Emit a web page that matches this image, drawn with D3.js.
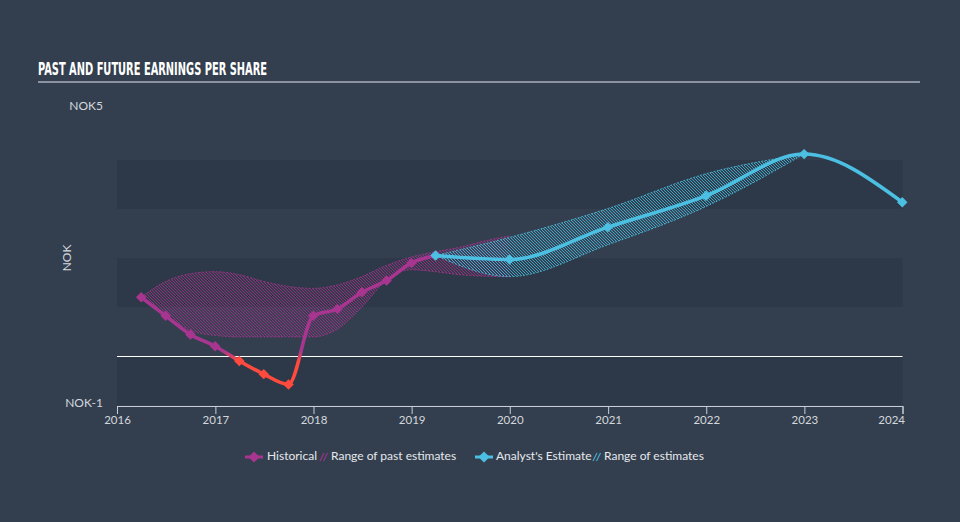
<!DOCTYPE html>
<html><head><meta charset="utf-8">
<script src="https://cdn.jsdelivr.net/npm/d3@7"></script>
<style>
html,body{margin:0;padding:0;background:#333f4f;}
svg{display:block;}
</style></head>
<body>
<svg id="chart" width="960" height="522"></svg>
<script>
// ---- data ----
const histDates = ["2016-03-31","2016-06-30","2016-09-30","2016-12-31","2017-03-31","2017-06-30","2017-09-30","2017-12-31","2018-03-31","2018-06-30","2018-09-30","2018-12-31","2019-03-31"];
const histValues = [1.20,0.82,0.44,0.20,-0.10,-0.37,-0.58,0.82,0.96,1.30,1.54,1.90,2.05];

const pastRangeDates = ["2016-03-31","2016-06-30","2016-09-30","2016-12-31","2017-03-31","2017-06-30","2017-09-30","2017-12-31","2018-03-31","2018-06-30","2018-09-30","2018-12-31","2019-03-31","2019-06-30","2019-09-30","2019-12-31"];
const pastLow  = [1.20,0.85,0.52,0.42,0.39,0.39,0.39,0.39,0.55,1.00,1.55,1.76,1.72,1.66,1.63,1.62];
const pastHigh = [1.20,1.52,1.68,1.72,1.66,1.52,1.42,1.38,1.45,1.62,1.85,2.02,2.13,2.22,2.35,2.45];

const estDates = ["2019-03-31","2019-12-31","2020-12-31","2021-12-31","2022-12-31","2023-12-31"];
const estValues = [2.05,1.97,2.63,3.27,4.12,3.14];

const estRangeDates = ["2019-03-31","2019-12-31","2020-12-31","2021-12-31","2022-12-31"];
const estLow  = [2.05,1.62,2.27,3.05,4.12];
const estHigh = [2.05,2.42,3.01,3.72,4.12];

const yTickLabels = ["NOK-1","NOK5"];
const yTickValues = [-1,5];
const xTickYears = [2016,2017,2018,2019,2020,2021,2022,2023,2024];

// ---- setup ----
const parse = d3.timeParse("%Y-%m-%d");
const svg = d3.select("#chart");
const W = 960, H = 522;
const pLeft = 117, pRight = 902.5, pTop = 111, pBottom = 405;

const x = d3.scaleTime().domain([new Date(2016,0,1), new Date(2024,0,1)]).range([pLeft, pRight]);
const y = d3.scaleLinear().domain([-1,5]).range([pBottom, pTop]);

const PURPLE = "#a8358f", RED = "#ff4a3d", BLUE = "#4cc0e3";
const TEXT = "#d4d8dd";

const defs = svg.append("defs");
function hatch(id, color){
  const p = defs.append("pattern").attr("id", id).attr("patternUnits","userSpaceOnUse")
    .attr("width",3).attr("height",3);
  p.append("path").attr("d","M-1,-1 L4,4 M-1,2 L1,4 M2,-1 L4,1")
    .attr("stroke", color).attr("stroke-width",0.9).attr("opacity",0.85);
}
hatch("hatchP", PURPLE);
hatch("hatchB", BLUE);

const grad = defs.append("linearGradient").attr("id","histGrad")
  .attr("gradientUnits","userSpaceOnUse").attr("x1",0).attr("x2",0)
  .attr("y1", y(0)-5).attr("y2", y(0)+5);
grad.append("stop").attr("offset","0%").attr("stop-color",PURPLE);
grad.append("stop").attr("offset","100%").attr("stop-color",RED);

// background
svg.append("rect").attr("width",W).attr("height",H).attr("fill","#333f4f");

// bands
const bandStarts = [-1,1,3];
svg.append("g").selectAll("rect").data(bandStarts).join("rect")
  .attr("x", pLeft).attr("width", pRight-pLeft)
  .attr("y", d => y(d+1)).attr("height", d => y(d)-y(d+1))
  .attr("fill","#2d3948");

// title
svg.append("text").attr("x",38).attr("y",75)
  .attr("font-family","'Liberation Sans Narrow','DejaVu Sans Condensed',sans-serif")
  .attr("font-weight","bold").attr("font-size",17.5).attr("fill","#ffffff")
  .attr("textLength",229).attr("lengthAdjust","spacingAndGlyphs")
  .text("PAST AND FUTURE EARNINGS PER SHARE");
svg.append("line").attr("x1",38).attr("x2",920).attr("y1",82).attr("y2",82)
  .attr("stroke","#a9b1ba").attr("stroke-width",1.3);

// y labels
svg.append("g").selectAll("text").data(yTickValues).join("text")
  .attr("x",103).attr("y", d => d===5 ? y(d)-4 : y(d)-1)
  .attr("text-anchor","end").attr("dominant-baseline","middle")
  .attr("font-family","Lato, sans-serif").attr("font-size",12).attr("fill",TEXT)
  .text((d,i) => yTickLabels[i]);
svg.append("text").attr("transform",`translate(68,258) rotate(-90)`)
  .attr("text-anchor","middle").attr("dominant-baseline","middle")
  .attr("font-family","Lato, sans-serif").attr("font-size",12).attr("fill",TEXT)
  .text("NOK");

// x axis
const xAxis = d3.axisBottom(x)
  .tickValues(xTickYears.map(v => new Date(v,0,1)))
  .tickFormat(d3.timeFormat("%Y")).tickSize(8).tickPadding(2);
const gx = svg.append("g").attr("transform",`translate(0,406)`).call(xAxis);
gx.select(".domain").attr("stroke","#c8ced6").attr("stroke-width",1);
gx.selectAll(".tick line").attr("stroke","#c8ced6");
gx.selectAll(".tick text").attr("fill",TEXT).attr("font-family","Lato, sans-serif").attr("font-size",11.5);
gx.selectAll(".tick text").filter((d,i,n) => i === n.length-1).attr("text-anchor","end").attr("dx",2);

// zero line
svg.append("line").attr("x1",pLeft).attr("x2",pRight).attr("y1",Math.round(y(0))+0.5).attr("y2",Math.round(y(0))+0.5)
  .attr("stroke","#ffffff").attr("stroke-width",1);

// ranges
const area = d3.area().curve(d3.curveMonotoneX).x(d=>x(d.date)).y0(d=>y(d.lo)).y1(d=>y(d.hi));
const pastData = pastRangeDates.map((d,i)=>({date:parse(d), lo:pastLow[i], hi:pastHigh[i]}));
const estRData = estRangeDates.map((d,i)=>({date:parse(d), lo:estLow[i], hi:estHigh[i]}));

function drawRange(data, pat, color){
  svg.append("path").datum(data).attr("d", area).attr("fill", `url(#${pat})`);
  svg.append("path").datum(data).attr("d", area).attr("fill", color).attr("opacity",0.06);
  const lineHi = d3.line().curve(d3.curveMonotoneX).x(d=>x(d.date)).y(d=>y(d.hi));
  const lineLo = d3.line().curve(d3.curveMonotoneX).x(d=>x(d.date)).y(d=>y(d.lo));
  [lineHi,lineLo].forEach(l => svg.append("path").datum(data).attr("d", l)
    .attr("fill","none").attr("stroke",color).attr("stroke-width",1)
    .attr("stroke-dasharray","2,1.5").attr("opacity",0.8));
}
drawRange(pastData, "hatchP", PURPLE);
drawRange(estRData, "hatchB", BLUE);

// lines
const line = d3.line().curve(d3.curveMonotoneX).x(d=>x(d.date)).y(d=>y(d.v));
const histData = histDates.map((d,i)=>({date:parse(d), v:histValues[i]}));
const estData = estDates.map((d,i)=>({date:parse(d), v:estValues[i]}));

svg.append("path").datum(histData).attr("d", line).attr("fill","none")
  .attr("stroke","url(#histGrad)").attr("stroke-width",3.5).attr("stroke-linejoin","round");
svg.append("path").datum(estData).attr("d", line).attr("fill","none")
  .attr("stroke",BLUE).attr("stroke-width",3.5).attr("stroke-linejoin","round");

const diamond = d3.symbol().type(d3.symbolDiamond2).size(70);
svg.append("g").selectAll("path").data(histData.slice(0,-1)).join("path")
  .attr("transform", d=>`translate(${x(d.date)},${y(d.v)})`)
  .attr("d", diamond).attr("fill", d => d.v < 0 ? RED : PURPLE);
svg.append("g").selectAll("path").data(estData).join("path")
  .attr("transform", d=>`translate(${x(d.date)},${y(d.v)})`)
  .attr("d", diamond).attr("fill", BLUE);

// legend
const lg = svg.append("g").attr("font-family","Lato, sans-serif").attr("font-size",12).attr("fill","#e6e8eb");
function legendLine(cx, color){
  lg.append("line").attr("x1",cx-9).attr("x2",cx+9).attr("y1",457).attr("y2",457)
    .attr("stroke",color).attr("stroke-width",3);
  lg.append("path").attr("transform",`translate(${cx},457)`).attr("d", d3.symbol().type(d3.symbolDiamond2).size(80)).attr("fill",color);
}
function legendHatch(x0, color){
  [0,3.5].forEach(o => lg.append("line").attr("x1",x0+o).attr("x2",x0+o+4).attr("y1",461).attr("y2",453)
    .attr("stroke",color).attr("stroke-width",1.2).attr("opacity",0.8));
}
legendLine(254, PURPLE);
lg.append("text").attr("x",267).attr("y",457).attr("dominant-baseline","middle").text("Historical");
legendHatch(320, PURPLE);
lg.append("text").attr("x",331).attr("y",457).attr("dominant-baseline","middle").text("Range of past estimates");
legendLine(484, BLUE);
lg.append("text").attr("x",496).attr("y",457).attr("dominant-baseline","middle").text("Analyst's Estimate");
legendHatch(593, BLUE);
lg.append("text").attr("x",604).attr("y",457).attr("dominant-baseline","middle").text("Range of estimates");
</script>
</body></html>
